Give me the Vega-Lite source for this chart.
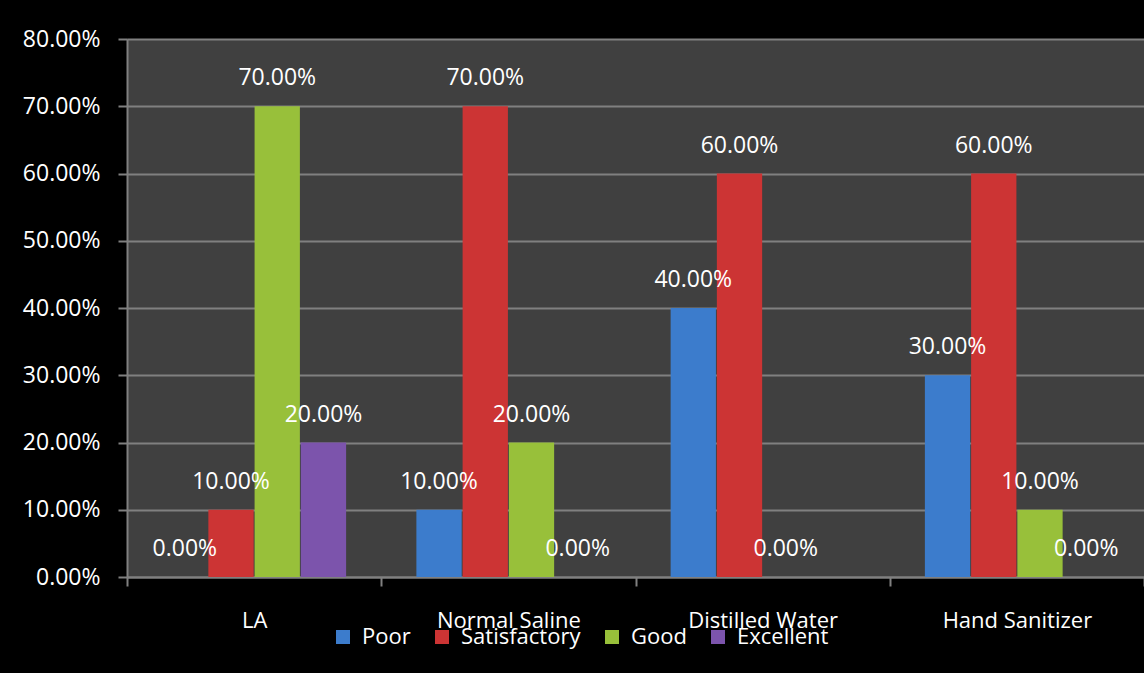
{
  "$schema": "https://vega.github.io/schema/vega-lite/v6.json",
  "width": 1017,
  "height": 538,
  "autosize": {"type": "none"},
  "padding": {"left": 127, "top": 39, "right": 0, "bottom": 96},
  "background": "#000000",
  "config": {
    "view": {"fill": "#404040", "stroke": null},
    "font": "Open Sans",
    "axis": {"labelFont": "Open Sans", "labelColor": "#ffffff", "labelFontSize": 22, "domainColor": "#808080", "tickColor": "#808080", "gridColor": "#808080", "domainWidth": 2, "tickWidth": 2, "gridWidth": 2, "labelOverlap": false}
  },
  "data": {
    "values": [
      {"category": "LA", "rating": "Poor", "value": 0.0},
      {"category": "LA", "rating": "Satisfactory", "value": 0.1},
      {"category": "LA", "rating": "Good", "value": 0.7},
      {"category": "LA", "rating": "Excellent", "value": 0.2},
      {"category": "Normal Saline", "rating": "Poor", "value": 0.1},
      {"category": "Normal Saline", "rating": "Satisfactory", "value": 0.7},
      {"category": "Normal Saline", "rating": "Good", "value": 0.2},
      {"category": "Normal Saline", "rating": "Excellent", "value": 0.0},
      {"category": "Distilled Water", "rating": "Poor", "value": 0.4},
      {"category": "Distilled Water", "rating": "Satisfactory", "value": 0.6},
      {"category": "Distilled Water", "rating": "Good", "value": 0.0},
      {"category": "Hand Sanitizer", "rating": "Poor", "value": 0.3},
      {"category": "Hand Sanitizer", "rating": "Satisfactory", "value": 0.6},
      {"category": "Hand Sanitizer", "rating": "Good", "value": 0.1},
      {"category": "Hand Sanitizer", "rating": "Excellent", "value": 0.0}
    ]
  },
  "encoding": {
    "x": {
      "field": "category", "type": "nominal",
      "sort": ["LA", "Normal Saline", "Distilled Water", "Hand Sanitizer"],
      "scale": {"paddingInner": 0, "paddingOuter": 0},
      "axis": {"title": null, "labelAngle": 0, "tickBand": "extent", "tickSize": 9, "labelPadding": 24, "domainWidth": 2}
    },
    "xOffset": {
      "field": "rating", "type": "nominal",
      "sort": ["Poor", "Satisfactory", "Good", "Excellent"],
      "scale": {"domain": ["Poor", "Satisfactory", "Good", "Excellent"], "paddingInner": 0.02, "paddingOuter": 0.76}
    },
    "y": {
      "field": "value", "type": "quantitative",
      "scale": {"domain": [0, 0.8], "nice": false},
      "axis": {"title": null, "format": ".2%", "values": [0, 0.1, 0.2, 0.3, 0.4, 0.5, 0.6, 0.7, 0.8], "tickSize": 9, "labelPadding": 18, "grid": true, "labelOverlap": false, "labelFontSize": 23}
    }
  },
  "layer": [
    {
      "mark": {"type": "bar", "opacity": 1},
      "encoding": {
        "color": {
          "field": "rating", "type": "nominal",
          "sort": ["Poor", "Satisfactory", "Good", "Excellent"],
          "scale": {"domain": ["Poor", "Satisfactory", "Good", "Excellent"], "range": ["#3c7ccc", "#cc3434", "#98c03a", "#7c54ac"]},
          "legend": {
            "title": null, "orient": "none", "direction": "horizontal",
            "legendX": 205, "legendY": 587, "padding": 0,
            "symbolType": "square", "symbolSize": 196, "symbolStrokeWidth": 0, "symbolOpacity": 1,
            "labelColor": "#ffffff", "labelFont": "Open Sans", "labelFontSize": 22, "labelOffset": 8,
            "columnPadding": 20
          }
        }
      }
    },
    {
      "mark": {"type": "text", "color": "#ffffff", "fontSize": 23, "font": "Open Sans", "baseline": "middle", "dy": -28},
      "encoding": {
        "text": {"field": "value", "type": "quantitative", "format": ".2%"}
      }
    }
  ]
}
